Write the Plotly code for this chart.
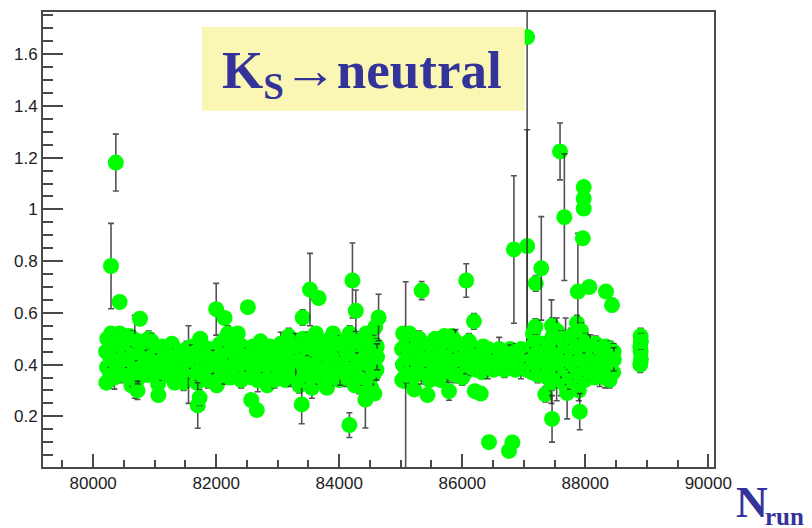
import numpy as np
import plotly.graph_objects as go

# ---------------- data ----------------
# Band 1: runs 80200 - 84650
band1_run = [
    80215, 80225, 80210, 80230,
    80275, 80285, 80270, 80290,
    80345, 80355, 80340, 80360,
    80415, 80425, 80410, 80430,
    80485, 80495, 80480, 80500,
    80555, 80565, 80560,
    80635, 80645, 80630, 80650,
    80715, 80725, 80710, 80730,
    80795, 80805, 80800,
    80875, 80885, 80880,
    80945, 80955, 80950,
    81045, 81055, 81050,
    81125, 81135, 81130,
    81215, 81225, 81220,
    81325, 81335, 81330, 81320,
    81415, 81425, 81420,
    81515, 81525, 81520,
    81595, 81605, 81600,
    81685, 81695, 81690, 81680,
    81775, 81785, 81780, 81790,
    81865, 81875, 81870, 81880,
    81955, 81965, 81960,
    82045, 82055, 82050, 82060,
    82135, 82145, 82140, 82150,
    82225, 82235, 82230, 82240,
    82315, 82325, 82320, 82330,
    82405, 82415, 82410, 82420,
    82495, 82505, 82500,
    82585, 82595, 82590, 82600,
    82675, 82685, 82680, 82690,
    82765, 82775, 82770,
    82855, 82865, 82860, 82870,
    82945, 82955, 82950, 82960,
    83035, 83045, 83040, 83050,
    83125, 83135, 83130, 83140,
    83215, 83225, 83220, 83230,
    83285, 83295, 83310, 83320,
    83395, 83405, 83400, 83410,
    83485, 83495, 83490, 83500,
    83575, 83585, 83580, 83590,
    83665, 83675, 83670, 83680,
    83755, 83765, 83760, 83770,
    83845, 83855, 83850, 83860,
    83935, 83945, 83940, 83950,
    84005, 84015, 84010, 84020,
    84115, 84125, 84120, 84130,
    84205, 84215, 84210, 84220,
    84295, 84305, 84300, 84310,
    84385, 84395, 84390, 84400,
    84475, 84485, 84480, 84490,
    84555, 84565, 84560, 84570,
    84605, 84615, 84610,
    80590, 80900, 81280, 81740, 82190, 82350, 82720, 83180, 83620, 83900,
    84170, 84440, 80620, 81470, 82010, 82830, 83350, 83800, 84250, 84520,
]
band1_ratio = [
    0.33, 0.39, 0.45, 0.50,
    0.36, 0.42, 0.47, 0.52,
    0.35, 0.41, 0.44, 0.49,
    0.37, 0.40, 0.46, 0.52,
    0.36, 0.43, 0.48, 0.51,
    0.38, 0.42, 0.45,
    0.36, 0.41, 0.47, 0.50,
    0.34, 0.37, 0.43, 0.49,
    0.39, 0.44, 0.47,
    0.36, 0.41, 0.46,
    0.38, 0.43, 0.49,
    0.37, 0.40, 0.45,
    0.37, 0.42, 0.47,
    0.36, 0.40, 0.44,
    0.33, 0.39, 0.43, 0.46,
    0.37, 0.41, 0.45,
    0.36, 0.40, 0.46,
    0.38, 0.43, 0.47,
    0.33, 0.37, 0.41, 0.45,
    0.36, 0.40, 0.44, 0.47,
    0.34, 0.38, 0.43, 0.46,
    0.36, 0.41, 0.45,
    0.34, 0.39, 0.43, 0.48,
    0.37, 0.42, 0.46, 0.50,
    0.35, 0.39, 0.44, 0.48,
    0.36, 0.41, 0.45, 0.50,
    0.34, 0.40, 0.43, 0.47,
    0.36, 0.42, 0.46,
    0.35, 0.39, 0.44, 0.47,
    0.34, 0.38, 0.42, 0.46,
    0.36, 0.40, 0.45,
    0.35, 0.39, 0.43, 0.47,
    0.34, 0.41, 0.44, 0.46,
    0.37, 0.40, 0.45, 0.48,
    0.34, 0.38, 0.43, 0.47,
    0.36, 0.41, 0.44, 0.49,
    0.35, 0.42, 0.43, 0.47,
    0.34, 0.40, 0.45, 0.50,
    0.36, 0.41, 0.44, 0.48,
    0.35, 0.39, 0.46, 0.51,
    0.37, 0.42, 0.45, 0.49,
    0.34, 0.38, 0.43, 0.48,
    0.36, 0.41, 0.45, 0.50,
    0.35, 0.40, 0.44, 0.47,
    0.34, 0.40, 0.43, 0.48,
    0.36, 0.41, 0.45, 0.50,
    0.34, 0.38, 0.43, 0.47,
    0.36, 0.40, 0.44, 0.49,
    0.35, 0.39, 0.42, 0.47,
    0.34, 0.40, 0.45, 0.50,
    0.36, 0.41, 0.44, 0.48,
    0.38, 0.43, 0.47,
    0.51, 0.50, 0.48, 0.50, 0.52, 0.52, 0.49, 0.51, 0.52, 0.52,
    0.52, 0.52, 0.32, 0.33, 0.32, 0.32, 0.32, 0.31, 0.32, 0.31,
]
band1_err = [
    0.02, 0.045, 0.02, 0.03,
    0.02, 0.03, 0.02, 0.02,
    0.045, 0.02, 0.03, 0.02,
    0.02, 0.045, 0.02, 0.02,
    0.03, 0.02, 0.045, 0.02,
    0.02, 0.03, 0.02,
    0.045, 0.02, 0.02, 0.03,
    0.02, 0.045, 0.02, 0.02,
    0.03, 0.02, 0.02,
    0.02, 0.045, 0.02,
    0.02, 0.02, 0.03,
    0.02, 0.04, 0.02,
    0.03, 0.02, 0.02,
    0.02, 0.02, 0.045,
    0.02, 0.02, 0.03, 0.02,
    0.045, 0.02, 0.02,
    0.02, 0.02, 0.03,
    0.02, 0.045, 0.02,
    0.02, 0.03, 0.02, 0.02,
    0.02, 0.02, 0.045, 0.02,
    0.03, 0.02, 0.02, 0.02,
    0.02, 0.045, 0.02,
    0.02, 0.02, 0.03, 0.02,
    0.045, 0.02, 0.02, 0.03,
    0.02, 0.03, 0.02, 0.02,
    0.02, 0.02, 0.045, 0.02,
    0.03, 0.02, 0.02, 0.02,
    0.02, 0.045, 0.02,
    0.02, 0.02, 0.03, 0.02,
    0.045, 0.02, 0.02, 0.02,
    0.02, 0.03, 0.02,
    0.02, 0.02, 0.045, 0.02,
    0.03, 0.02, 0.02, 0.02,
    0.02, 0.06, 0.02, 0.045,
    0.02, 0.02, 0.03, 0.02,
    0.045, 0.02, 0.02, 0.02,
    0.02, 0.10, 0.02, 0.03,
    0.02, 0.045, 0.02, 0.02,
    0.03, 0.02, 0.02, 0.045,
    0.02, 0.02, 0.03, 0.02,
    0.045, 0.02, 0.02, 0.02,
    0.02, 0.03, 0.02, 0.02,
    0.02, 0.02, 0.045, 0.02,
    0.03, 0.02, 0.02, 0.02,
    0.02, 0.08, 0.02, 0.03,
    0.045, 0.02, 0.02, 0.02,
    0.02, 0.03, 0.045, 0.02,
    0.02, 0.045, 0.02, 0.03,
    0.03, 0.02, 0.045, 0.02,
    0.02, 0.045, 0.03, 0.02,
    0.05, 0.04, 0.05, 0.04,
    0.04, 0.05, 0.03,
    0.02, 0.03, 0.02, 0.02, 0.03, 0.02, 0.02, 0.03, 0.02, 0.02,
    0.03, 0.02, 0.02, 0.03, 0.02, 0.02, 0.03, 0.02, 0.02, 0.03,
]

# Band 2: runs 85000 - 87400
band2_run = [
    85025, 85035, 85020, 85040,
    85095, 85105, 85100,
    85175, 85185, 85180,
    85255, 85265, 85260,
    85335, 85345, 85340,
    85425, 85435, 85430,
    85515, 85525, 85520, 85530,
    85605, 85615, 85610,
    85695, 85705, 85700, 85710,
    85785, 85795, 85790,
    85875, 85885, 85880, 85890,
    85965, 85975, 85970,
    86055, 86065, 86060, 86070,
    86145, 86155, 86150,
    86235, 86245, 86240,
    86325, 86335, 86330, 86340,
    86415, 86425, 86420,
    86505, 86515, 86510,
    86595, 86605, 86600,
    86685, 86695, 86690,
    86775, 86785, 86780,
    86865, 86875, 86870,
    86955, 86965, 86960,
    87045, 87055, 87050,
    87135, 87145, 87140, 87150,
    87225, 87235, 87230,
    87315, 87325, 87320,
    87385, 87395, 87390,
    85140, 85300, 85560, 85830, 86110, 85470, 85650, 86000,
]
band2_ratio = [
    0.34, 0.40, 0.46, 0.52,
    0.36, 0.43, 0.49,
    0.38, 0.44, 0.50,
    0.36, 0.41, 0.47,
    0.37, 0.43, 0.48,
    0.38, 0.42, 0.46,
    0.37, 0.41, 0.45, 0.48,
    0.36, 0.40, 0.44,
    0.38, 0.43, 0.48, 0.51,
    0.37, 0.40, 0.46,
    0.36, 0.40, 0.45, 0.49,
    0.38, 0.42, 0.46,
    0.37, 0.41, 0.44, 0.48,
    0.39, 0.43, 0.47,
    0.38, 0.42, 0.45,
    0.37, 0.40, 0.44, 0.47,
    0.39, 0.43, 0.46,
    0.38, 0.41, 0.45,
    0.39, 0.42, 0.46,
    0.38, 0.41, 0.44,
    0.39, 0.43, 0.46,
    0.38, 0.41, 0.45,
    0.39, 0.42, 0.46,
    0.38, 0.41, 0.45,
    0.37, 0.42, 0.47, 0.52,
    0.36, 0.40, 0.45,
    0.38, 0.43, 0.48,
    0.35, 0.40, 0.46,
    0.52, 0.50, 0.50, 0.51, 0.49, 0.34, 0.34, 0.35,
]
band2_err = [
    0.02, 0.045, 0.02, 0.02,
    0.03, 0.02, 0.02,
    0.02, 0.045, 0.02,
    0.02, 0.02, 0.03,
    0.045, 0.02, 0.02,
    0.02, 0.03, 0.02,
    0.02, 0.045, 0.02, 0.02,
    0.03, 0.02, 0.02,
    0.02, 0.02, 0.045, 0.02,
    0.02, 0.06, 0.02,
    0.03, 0.02, 0.02, 0.045,
    0.02, 0.03, 0.02,
    0.02, 0.045, 0.02, 0.02,
    0.03, 0.02, 0.02,
    0.02, 0.045, 0.02,
    0.02, 0.02, 0.03, 0.02,
    0.045, 0.02, 0.02,
    0.02, 0.03, 0.02,
    0.02, 0.02, 0.045,
    0.03, 0.02, 0.02,
    0.02, 0.045, 0.02,
    0.02, 0.02, 0.03,
    0.045, 0.02, 0.02,
    0.02, 0.03, 0.02,
    0.02, 0.045, 0.02, 0.02,
    0.03, 0.02, 0.02,
    0.02, 0.045, 0.02,
    0.03, 0.02, 0.045,
    0.02, 0.03, 0.02, 0.02, 0.03, 0.02, 0.02, 0.03,
]

# Band 3: runs 87450 - 88470
band3_run = [
    87455, 87465, 87450, 87470, 87460,
    87525, 87535, 87530, 87540,
    87595, 87605, 87600, 87610,
    87675, 87685, 87680, 87690,
    87755, 87765, 87760, 87770,
    87835, 87845, 87840, 87850,
    87915, 87925, 87920, 87930,
    87995, 88005, 88000, 88010,
    88075, 88085, 88080,
    88155, 88165, 88160, 88170,
    88235, 88245, 88240,
    88315, 88325, 88320, 88330,
    88395, 88405, 88400, 88410,
    88455, 88465, 88460,
]
band3_ratio = [
    0.33, 0.39, 0.45, 0.51, 0.55,
    0.36, 0.42, 0.48, 0.53,
    0.34, 0.40, 0.44, 0.50,
    0.32, 0.38, 0.43, 0.47,
    0.35, 0.41, 0.46, 0.51,
    0.33, 0.39, 0.44, 0.49,
    0.36, 0.42, 0.47, 0.53,
    0.34, 0.40, 0.45, 0.49,
    0.37, 0.42, 0.47,
    0.35, 0.40, 0.44, 0.48,
    0.36, 0.41, 0.46,
    0.35, 0.40, 0.44, 0.47,
    0.34, 0.38, 0.43, 0.46,
    0.37, 0.42, 0.45,
]
band3_err = [
    0.03, 0.04, 0.20, 0.03, 0.03,
    0.03, 0.16, 0.045, 0.02,
    0.02, 0.12, 0.045, 0.03,
    0.03, 0.02, 0.15, 0.03,
    0.045, 0.04, 0.02, 0.03,
    0.02, 0.045, 0.03, 0.02,
    0.03, 0.02, 0.045, 0.03,
    0.02, 0.045, 0.02, 0.03,
    0.03, 0.02, 0.045,
    0.02, 0.045, 0.02, 0.03,
    0.045, 0.02, 0.03,
    0.02, 0.09, 0.045, 0.02,
    0.03, 0.02, 0.045, 0.03,
    0.02, 0.045, 0.03,
]

# Small cluster near run 88900
cluster_run = [88895, 88905, 88900, 88895, 88905, 88900]
cluster_ratio = [0.40, 0.42, 0.45, 0.47, 0.49, 0.51]
cluster_err = [0.03, 0.02, 0.03, 0.02, 0.03, 0.03]

# Individually visible points away from the bands
out_run = [
    80290, 80368, 80430, 80760, 80676, 80720, 81055, 81060,
    81550, 81700, 81730, 82000, 82135, 82515, 82570, 82660,
    83405, 83525, 83665, 83390, 83555, 84165, 84215, 84270,
    84325, 84425, 84570, 84585, 84640, 85080, 85340, 86065,
    86190, 85785, 86205, 86300, 86435, 86815, 86760, 86840,
    87055, 87055, 87195, 87285, 87350, 87460, 87590, 87660,
    87705, 87895, 87910, 87975, 87975, 87975, 87960, 87880,
    88065, 88337, 88435, 87865, 87190, 85220, 85435, 85055,
]
out_ratio = [
    0.781, 1.181, 0.642, 0.577, 0.430, 0.300, 0.326, 0.282,
    0.400, 0.242, 0.272, 0.614, 0.580, 0.622, 0.263, 0.224,
    0.582, 0.690, 0.657, 0.246, 0.310, 0.166, 0.725, 0.608,
    0.317, 0.265, 0.288, 0.545, 0.582, 0.360, 0.686, 0.725,
    0.567, 0.297, 0.297, 0.288, 0.100, 0.099, 0.066, 0.845,
    0.858, 1.666, 0.714, 0.772, 0.285, 0.190, 1.224, 0.970,
    0.290, 0.300, 0.218, 1.086, 1.042, 1.003, 0.888, 0.682,
    0.700, 0.682, 0.630, 0.560, 0.547, 0.304, 0.282, 0.336,
]
out_err = [
    0.165, 0.110, 0.020, 0.020, 0.160, 0.035, 0.020, 0.020,
    0.150, 0.088, 0.030, 0.100, 0.020, 0.020, 0.020, 0.020,
    0.030, 0.140, 0.020, 0.075, 0.040, 0.048, 0.145, 0.080,
    0.030, 0.110, 0.020, 0.030, 0.090, 0.360, 0.035, 0.065,
    0.030, 0.035, 0.020, 0.020, 0.020, 0.020, 0.020, 0.285,
    0.450, 1.200, 0.030, 0.200, 0.030, 0.090, 0.110, 0.245,
    0.100, 0.040, 0.070, 0.020, 0.020, 0.020, 0.020, 0.225,
    0.020, 0.020, 0.025, 0.030, 0.030, 0.020, 0.020, 0.020,
]

x_ticks = [80000, 82000, 84000, 86000, 88000, 90000]
y_ticks = [0.2, 0.4, 0.6, 0.8, 1.0, 1.2, 1.4, 1.6]
y_ticktext = ["0.2", "0.4", "0.6", "0.8", "1", "1.2", "1.4", "1.6"]

# ---------------- assemble ----------------
run = np.array(band1_run + band2_run + band3_run + cluster_run + out_run, dtype=float)
ratio = np.array(band1_ratio + band2_ratio + band3_ratio + cluster_ratio + out_ratio)
err = np.array(band1_err + band2_err + band3_err + cluster_err + out_err)

GREEN = "#00ff00"
BAR = "rgba(40,40,40,0.8)"
AXC = "#4a4a4a"

# ROOT draws point by point in run order: each point's bar, then its marker.
order = np.argsort(run, kind="stable")
fig = go.Figure()
for i in order:
    fig.add_trace(go.Scatter(
        x=[run[i]], y=[ratio[i]], mode="markers",
        marker=dict(color=GREEN, size=16, line=dict(width=0)),
        error_y=dict(type="data", array=[err[i]], visible=True,
                     color=BAR, thickness=1.6, width=3),
        hoverinfo="skip"))

SERIF = "Liberation Serif, Times New Roman, serif"
SANS = "Liberation Sans, Arial, sans-serif"
fig.update_layout(
    # the page body has an 8px default margin: figure is sized to fit the window
    width=804, height=520,
    margin=dict(l=35, r=98, t=2, b=61),
    plot_bgcolor="white", paper_bgcolor="white",
    showlegend=False,
    xaxis=dict(range=[79184, 90093], tickmode="array", tickvals=x_ticks,
               ticktext=[str(v) for v in x_ticks],
               ticks="inside", ticklen=13, tickwidth=1.5, tickcolor=AXC,
               showline=True, linecolor=AXC, linewidth=2, mirror=True,
               showgrid=False, zeroline=False,
               tickfont=dict(family=SANS, size=17, color="#222"),
               minor=dict(dtick=500, tick0=80000, ticks="inside", ticklen=7,
                          tickwidth=1.5, tickcolor=AXC, showgrid=False)),
    yaxis=dict(range=[0.004, 1.763], tickmode="array", tickvals=y_ticks,
               ticktext=y_ticktext,
               ticks="inside", ticklen=20, tickwidth=1.5, tickcolor=AXC,
               showline=True, linecolor=AXC, linewidth=2, mirror=True,
               showgrid=False, zeroline=False,
               tickfont=dict(family=SANS, size=17, color="#222"),
               minor=dict(dtick=0.05, tick0=0, ticks="inside", ticklen=10,
                          tickwidth=1.5, tickcolor=AXC, showgrid=False)),
    shapes=[dict(type="rect", xref="paper", yref="paper",
                 x0=0.237, x1=0.718, y0=0.783, y1=0.967,
                 fillcolor="#faf7b4", line=dict(width=0), layer="above")],
    annotations=[
        dict(xref="paper", yref="paper", x=0.475, y=0.864,
             xanchor="center", yanchor="middle", showarrow=False,
             text="<b>K<sub>S</sub>→neutral</b>",
             font=dict(family=SERIF, size=53, color="#333399")),
        dict(xref="paper", yref="paper", x=1.030, y=-0.077,
             xanchor="left", yanchor="middle", showarrow=False,
             text="<b>N</b>",
             font=dict(family=SERIF, size=44, color="#333399")),
        dict(xref="paper", yref="paper", x=1.073, y=-0.108,
             xanchor="left", yanchor="middle", showarrow=False,
             text="<b>run</b>",
             font=dict(family=SERIF, size=25, color="#333399")),
    ],
)

fig.write_html("out.html")
